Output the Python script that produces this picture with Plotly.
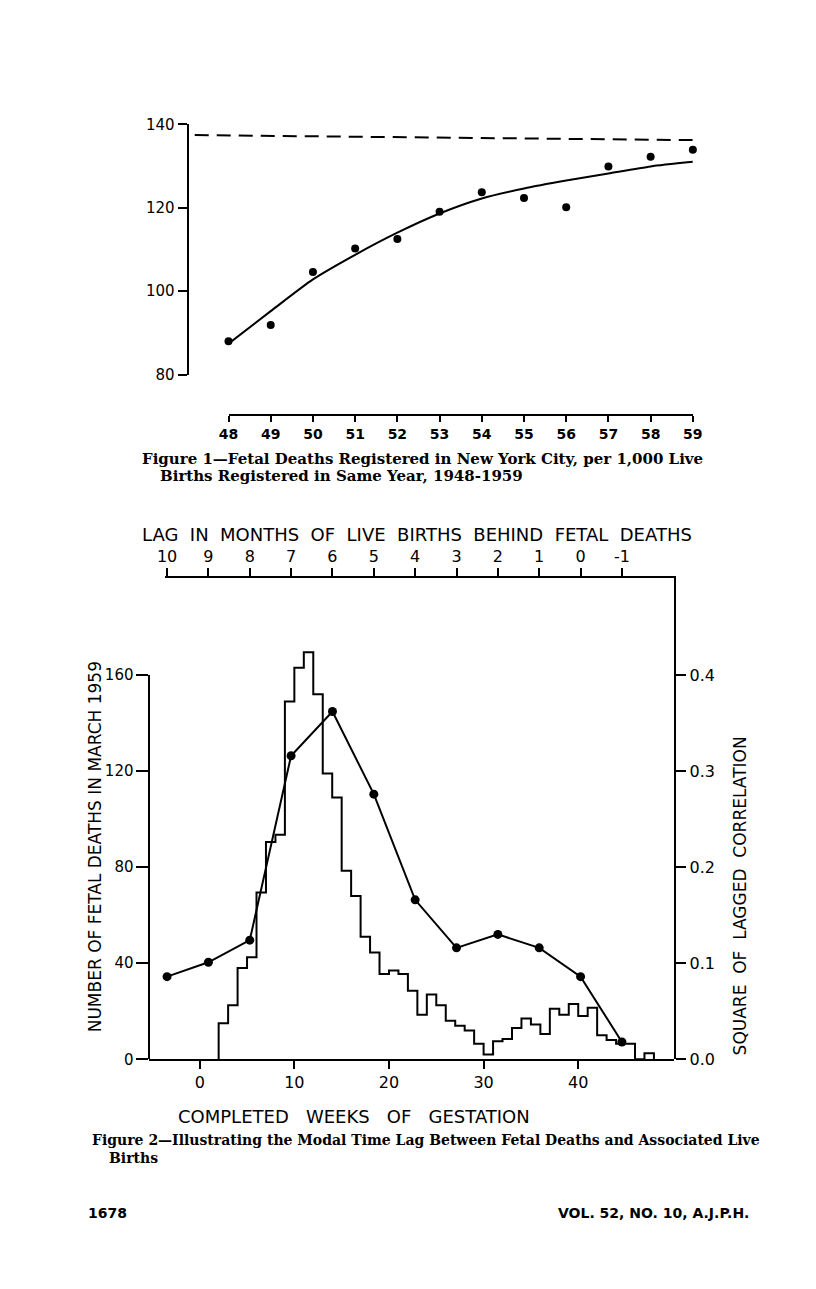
import plotly.graph_objects as go

# ---------------- data ----------------
# Figure 1: fetal deaths per 1,000 live births, NYC 1948-1959
years = list(range(48, 60))
year_labels = [str(y) for y in years]
fetal_ratio = [88.0, 91.9, 104.6, 110.2, 112.5, 119.0, 123.7, 122.3, 120.1, 129.9, 132.2, 133.9]
fitted_trend = [87.4, 95.2, 102.8, 108.7, 114.0, 118.6, 122.2, 124.6, 126.5, 128.2, 129.9, 131.0]
asymptote_years = [47.2, 59]
asymptote_level = [137.4, 136.2]
fig1_yticks = [80, 100, 120, 140]

# Figure 2: fetal deaths in March 1959 by completed weeks of gestation (1-week bins)
week_bins = list(range(2, 48))
fetal_deaths = [15, 22.5, 38, 42.5, 69.5, 90.5, 93.5, 149, 163, 169.5, 152, 119, 109, 78.5,
                68, 51, 44.5, 35.5, 37, 35.5, 28.5, 18.5, 27, 22.5, 16, 14, 12, 6.5, 2, 7.5,
                8.5, 13, 17, 14.5, 10.5, 21, 18.5, 23, 18, 21.5, 10, 8, 6.5, 6.5, 0, 2.5]
lag_months = [10, 9, 8, 7, 6, 5, 4, 3, 2, 1, 0, -1]
lag_labels = ["10", "9", "8", "7", "6", "5", "4", "3", "2", "1", "0", "-1"]
lagged_r2 = [0.086, 0.101, 0.124, 0.316, 0.362, 0.276, 0.166, 0.116, 0.130, 0.116, 0.086, 0.018]
week_ticks = [0, 10, 20, 30, 40]
death_ticks = [0, 40, 80, 120, 160]
r2_ticks = [0.0, 0.1, 0.2, 0.3, 0.4]
r2_labels = ["0.0", "0.1", "0.2", "0.3", "0.4"]

# ---------------- layout helpers ----------------
W, H = 816, 1289
def fx(px):
    return px / W
def fy(py):
    return 1 - py / H

SANS = "DejaVu Sans"
SERIF = "DejaVu Serif"
INK = "black"

axis_common = dict(showgrid=False, zeroline=False, linecolor=INK, linewidth=2,
                   tickcolor=INK, tickwidth=2, ticks="outside", showline=True,
                   fixedrange=True)

# step outline of the histogram built from the bins
hist_x = [week_bins[0]] + week_bins + [week_bins[-1] + 1]
hist_y = [0] + fetal_deaths + [0]

fig = go.Figure()

# Figure 1 traces
fig.add_trace(go.Scatter(x=asymptote_years, y=asymptote_level, mode="lines",
                         line=dict(color=INK, width=2, dash="14px,8px"),
                         xaxis="x", yaxis="y", hoverinfo="skip"))
fig.add_trace(go.Scatter(x=years, y=fitted_trend, mode="lines",
                         line=dict(color=INK, width=2, shape="spline", smoothing=0.6),
                         xaxis="x3", yaxis="y", hoverinfo="skip"))
fig.add_trace(go.Scatter(x=years, y=fetal_ratio, mode="markers",
                         marker=dict(color=INK, size=8),
                         xaxis="x", yaxis="y", cliponaxis=False))

# Figure 2 traces
fig.add_trace(go.Scatter(x=hist_x, y=hist_y, mode="lines", line_shape="hv",
                         line=dict(color=INK, width=2),
                         xaxis="x2", yaxis="y2", hoverinfo="skip"))
fig.add_trace(go.Scatter(x=[], y=[], mode="lines", xaxis="x2", yaxis="y4",
                         hoverinfo="skip"))
fig.add_trace(go.Scatter(x=lag_months, y=lagged_r2, mode="lines+markers",
                         line=dict(color=INK, width=2),
                         marker=dict(color=INK, size=9),
                         xaxis="x4", yaxis="y3", cliponaxis=False))

# axis calibration (pixels)
f1_x0, f1_x48, f1_x59 = 182, 224, 700
ppy = (f1_x59 - f1_x48) / (years[-1] - years[0])
week0_px, px_per_week = 194.5, 9.7
lag10_px, px_per_month = 161, 42.39
f2_left, f2_right, f2_base = 143, 681, 1066
f2_top160 = 676

def week_at(px):
    return (px - week0_px) / px_per_week
def lag_at(px):
    return 10 - (px - lag10_px) / px_per_month

fig.update_layout(
    width=W, height=H, autosize=False,
    margin=dict(l=0, r=0, t=0, b=0, pad=0),
    paper_bgcolor="white", plot_bgcolor="rgba(0,0,0,0)",
    showlegend=False,
    font=dict(family=SANS, color=INK),
    # ----- Figure 1 -----
    xaxis=dict(domain=[fx(f1_x0), fx(f1_x59)],
               range=[years[0] - (f1_x48 - f1_x0) / ppy, years[-1]],
               visible=False, anchor="y"),
    xaxis3=dict(domain=[fx(f1_x48), fx(f1_x59)], range=[years[0], years[-1]],
                anchor="free", position=fy(412),
                tickvals=years, ticktext=year_labels, ticklen=6,
                tickfont=dict(family=SANS, size=14, weight="bold"), **axis_common),
    yaxis=dict(domain=[fy(371), fy(117)], range=[80, 140],
               anchor="free", position=fx(f1_x0),
               tickvals=fig1_yticks, ticklen=9,
               tickfont=dict(family=SANS, size=15), **axis_common),
    # ----- Figure 2 -----
    xaxis2=dict(domain=[fx(f2_left), fx(f2_right)],
                range=[week_at(f2_left), week_at(f2_right)],
                anchor="y2", tickvals=week_ticks, ticklen=8,
                tickfont=dict(family=SANS, size=16), **axis_common),
    yaxis2=dict(domain=[fy(f2_base), fy(640)],
                range=[0, 160 * (f2_base - 640) / (f2_base - f2_top160)],
                visible=False, anchor="x2"),
    yaxis4=dict(domain=[fy(f2_base), fy(f2_top160)], range=[0, 160],
                anchor="free", position=fx(f2_left),
                tickvals=death_ticks, ticklen=12,
                tickfont=dict(family=SANS, size=15), **axis_common),
    xaxis4=dict(domain=[fx(159), fx(f2_right)],
                range=[lag_at(159), lag_at(f2_right)],
                anchor="y3", side="top",
                tickvals=lag_months, ticktext=lag_labels, ticklen=8,
                tickfont=dict(family=SANS, size=16), **axis_common),
    yaxis3=dict(domain=[fy(f2_base), fy(578)],
                range=[0, 0.4 * (f2_base - 578) / (f2_base - f2_top160)],
                anchor="x4", side="right",
                tickvals=r2_ticks, ticktext=r2_labels, ticklen=10,
                tickfont=dict(family=SANS, size=16), **axis_common),
)

NB = "\u00a0"
def ann(text, x, y, size, family=SANS, xanchor="left", angle=0, weight="normal"):
    fig.add_annotation(text=text, x=fx(x), y=fy(y), xref="paper", yref="paper",
                       xanchor=xanchor, yanchor="middle", showarrow=False,
                       textangle=angle,
                       font=dict(family=family, size=size, color=INK, weight=weight))

# captions
ann("Figure 1\u2014Fetal Deaths Registered in New York City, per 1,000 Live", 133, 457, 15, SERIF, weight="bold")
ann("Births Registered in Same Year, 1948-1959", 152, 474, 15, SERIF, weight="bold")
ann("Figure 2\u2014Illustrating the Modal Time Lag Between Fetal Deaths and Associated Live", 82, 1148, 14, SERIF, weight="bold")
ann("Births", 99, 1166, 14, SERIF, weight="bold")

# figure 2 axis titles
ann((NB * 2).join("LAG IN MONTHS OF LIVE BIRTHS BEHIND FETAL DEATHS".split(" ")), 417, 533, 18, xanchor="center")
ann((NB * 3).join("COMPLETED WEEKS OF GESTATION".split(" ")), 353, 1124, 18, xanchor="center")
ann("NUMBER OF FETAL DEATHS IN MARCH 1959", 88, 850, 17, xanchor="center", angle=-90)
ann((NB * 2).join("SQUARE OF LAGGED CORRELATION".split(" ")), 748, 900, 17, xanchor="center", angle=-90)

# page footer
ann("1678", 78, 1222, 14, weight="bold")
ann("VOL. 52, NO. 10, A.J.P.H.", 760, 1222, 14, xanchor="right", weight="bold")

fig.write_html("out.html", config={"displayModeBar": False},
               post_script="document.body.style.margin='0';")
